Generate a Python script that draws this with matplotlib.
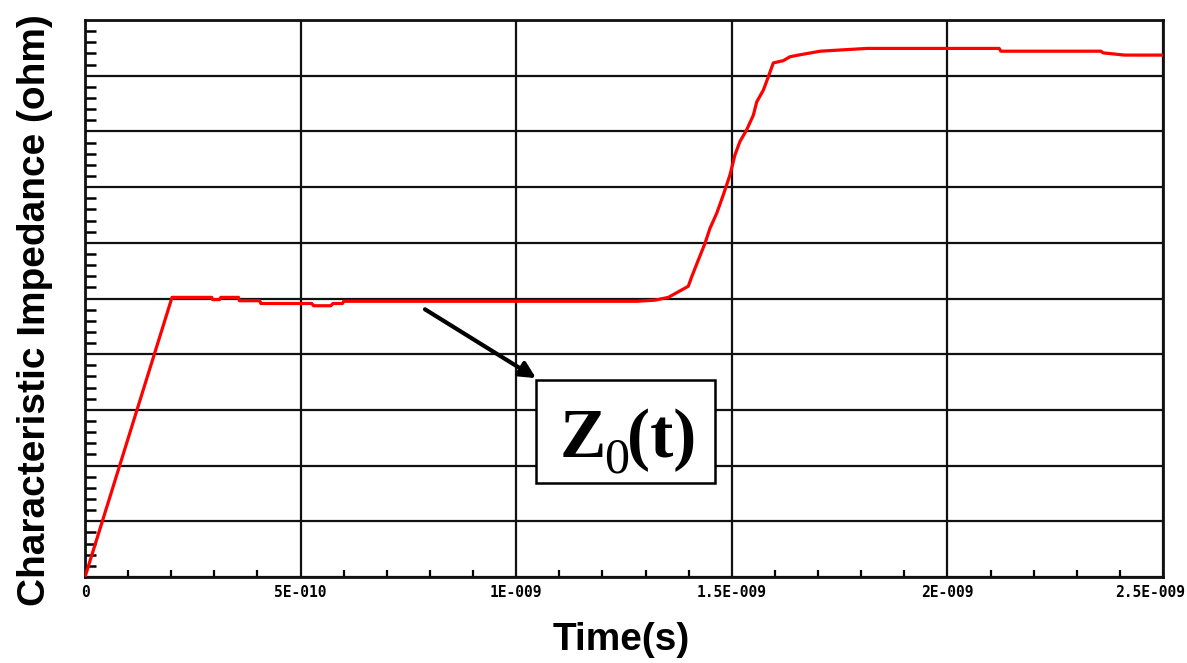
import matplotlib
matplotlib.use("Agg")
import matplotlib.pyplot as plt
import matplotlib.transforms as mtransforms
from matplotlib.patches import Rectangle
from matplotlib.ticker import MultipleLocator
import numpy as np

# TDR trace (time in ns, impedance in ohm)
t_ns = [0.0, 0.2018, 0.294, 0.296, 0.312, 0.315, 0.356, 0.358, 0.405, 0.408,
        0.526, 0.530, 0.570, 0.575, 0.597, 0.600, 1.2795, 1.3219, 1.3527,
        1.3759, 1.3991, 1.4070, 1.4223, 1.4378, 1.4494, 1.4650, 1.4803,
        1.4958, 1.5074, 1.5190, 1.5346, 1.5499, 1.5578, 1.5731, 1.5847,
        1.5963, 1.6194, 1.6350, 1.6542, 1.705, 1.814, 2.120, 2.124, 2.356,
        2.361, 2.411, 2.5]
z_ohm = [0.0, 50.2, 50.2, 49.8, 49.8, 50.2, 50.2, 49.6, 49.6, 49.1,
         49.1, 48.7, 48.7, 49.1, 49.1, 49.5, 49.5, 49.7, 50.2,
         51.2, 52.2, 53.9, 56.9, 59.9, 62.6, 65.3, 68.6,
         72.2, 75.8, 78.2, 80.3, 82.9, 85.3, 87.4, 89.8,
         92.3, 92.7, 93.4, 93.7, 94.4, 94.9, 94.9, 94.4, 94.4,
         94.1, 93.7, 93.7]

xticks = [0, 0.5e-9, 1.0e-9, 1.5e-9, 2.0e-9, 2.5e-9]
xtick_labels = ["0", "5E-010", "1E-009", "1.5E-009", "2E-009", "2.5E-009"]

fig = plt.figure(figsize=(11.87, 6.63), dpi=100)
ax = fig.add_axes([85 / 1187, 1 - 577 / 663, 1078 / 1187, 557 / 663])

t = np.array(t_ns) * 1e-9
ax.plot(t, z_ohm, color="#ff0000", lw=2.3, zorder=3)

ax.set_xlim(0, 2.5e-9)
ax.set_ylim(0, 100)
ax.set_xticks(xticks)
ax.set_xticklabels(xtick_labels, family="DejaVu Sans Mono", fontsize=10.5,
                   fontweight="bold")
ax.xaxis.set_minor_locator(MultipleLocator(0.1e-9))
ax.yaxis.set_major_locator(MultipleLocator(10))
ax.yaxis.set_minor_locator(MultipleLocator(2))
ax.set_yticklabels([])

ax.grid(True, which="major", color="#111111", lw=1.6)
ax.set_axisbelow(True)
ax.tick_params(axis="x", which="both", direction="in", width=1.6, pad=6)
ax.tick_params(axis="x", which="major", length=0)
ax.tick_params(axis="x", which="minor", length=5)
ax.tick_params(axis="y", which="major", length=0)
ax.tick_params(axis="y", which="minor", direction="in", length=8, width=1.8)
for s in ax.spines.values():
    s.set_linewidth(2.0)
    s.set_color("#111111")

# last tick label is pulled in so it stays inside the figure
lbls = ax.get_xticklabels()
lbls[-1].set_transform(lbls[-1].get_transform() +
                       mtransforms.ScaledTranslation(-0.13, 0, fig.dpi_scale_trans))

ax.set_xlabel("Time(s)", fontsize=28, fontweight="bold", family="Liberation Sans",
              va="center")
ax.xaxis.set_label_coords(0.497, -0.113)
ax.set_ylabel("Characteristic Impedance (ohm)", fontsize=28, fontweight="bold",
              family="Liberation Sans", va="center")
ax.yaxis.set_label_coords(-0.0465, 0.479)

# annotation box, label and arrow
box_x0, box_x1 = 1.046e-9, 1.461e-9
box_y0, box_y1 = 16.9, 35.4
ax.add_patch(Rectangle((box_x0, box_y0), box_x1 - box_x0, box_y1 - box_y0,
                       facecolor="white", edgecolor="black", lw=1.8, zorder=4))

lab_x, lab_y = 1.1055e-9, 21.6
serif = dict(family="Liberation Serif", fontweight="bold", zorder=5,
             ha="left", va="baseline")


def shifted(dx_px, dy_px):
    return ax.transData + mtransforms.ScaledTranslation(
        dx_px / 100, dy_px / 100, fig.dpi_scale_trans)


ax.text(lab_x, lab_y, "Z", fontsize=50, transform=shifted(-2, 0), **serif)
ax.text(lab_x, lab_y, "0", fontsize=36, transform=shifted(42, -16),
        **dict(serif, fontweight="normal"))
ax.text(lab_x, lab_y, "(t)", fontsize=50, transform=shifted(65, 0), **serif)

ax.annotate("", xy=(1.046e-9, 35.7), xytext=(0.7885e-9, 48.06),
            arrowprops=dict(arrowstyle="-|>", color="black", lw=3,
                            mutation_scale=24, shrinkA=0, shrinkB=0),
            zorder=5)

fig.savefig("out.png", dpi=100)
